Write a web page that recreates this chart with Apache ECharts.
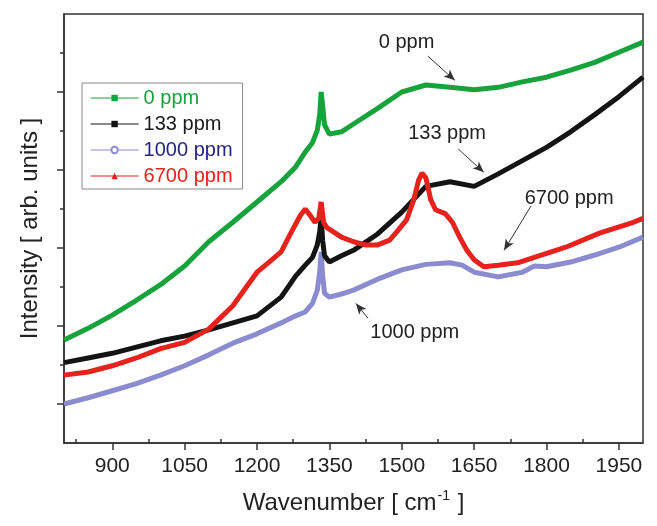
<!DOCTYPE html>
<html>
<head>
  <meta charset="UTF-8">
  <title>raman</title>
  <style>
    body { margin: 0; background: #fff; }
    #main { width: 657px; height: 526px; }
  </style>
  <script src="https://cdn.jsdelivr.net/npm/echarts@6/dist/echarts.min.js"></script>
</head>
<body>
<div id="main"></div>
<script type="text/javascript">
  // wavenumber (cm-1) and intensity (arb. units)
  const wn0 = [800, 850, 900, 950, 1000, 1050, 1100, 1150, 1200, 1250, 1280, 1300, 1315, 1325, 1330, 1333, 1336, 1340, 1350, 1375, 1400, 1450, 1500, 1550, 1600, 1650, 1700, 1750, 1800, 1850, 1900, 1950, 2000];
  const ppm0 = [1.32, 1.47, 1.64, 1.83, 2.03, 2.27, 2.58, 2.83, 3.09, 3.35, 3.54, 3.73, 3.85, 4.01, 4.21, 4.50, 4.33, 4.08, 3.96, 3.99, 4.09, 4.29, 4.50, 4.59, 4.56, 4.53, 4.56, 4.63, 4.69, 4.78, 4.88, 5.01, 5.14];

  const wn133 = [800, 850, 900, 950, 1000, 1050, 1100, 1150, 1200, 1250, 1280, 1300, 1315, 1325, 1330, 1333, 1336, 1340, 1350, 1375, 1400, 1450, 1500, 1550, 1600, 1650, 1700, 1750, 1800, 1850, 1900, 1950, 2000];
  const ppm133 = [1.03, 1.09, 1.15, 1.23, 1.31, 1.37, 1.45, 1.54, 1.63, 1.87, 2.14, 2.28, 2.38, 2.54, 2.71, 2.90, 2.60, 2.40, 2.32, 2.40, 2.47, 2.68, 2.96, 3.29, 3.35, 3.29, 3.45, 3.62, 3.79, 3.99, 4.21, 4.44, 4.69];

  const wn1000 = [800, 850, 900, 950, 1000, 1050, 1100, 1150, 1200, 1250, 1280, 1300, 1315, 1325, 1330, 1333, 1336, 1340, 1350, 1375, 1400, 1450, 1500, 1550, 1600, 1625, 1650, 1700, 1750, 1775, 1800, 1850, 1900, 1950, 2000];
  const ppm1000 = [0.50, 0.58, 0.67, 0.76, 0.87, 0.99, 1.13, 1.28, 1.40, 1.54, 1.63, 1.68, 1.79, 1.96, 2.19, 2.45, 2.15, 1.92, 1.87, 1.91, 1.96, 2.10, 2.22, 2.29, 2.31, 2.28, 2.19, 2.13, 2.19, 2.27, 2.26, 2.32, 2.41, 2.51, 2.64];

  const wn6700 = [800, 850, 900, 950, 1000, 1050, 1100, 1150, 1200, 1225, 1250, 1270, 1290, 1300, 1310, 1320, 1328, 1333, 1338, 1345, 1375, 1400, 1425, 1450, 1475, 1490, 1510, 1525, 1535, 1542, 1550, 1560, 1570, 1590, 1605, 1620, 1635, 1650, 1670, 1700, 1740, 1770, 1840, 1910, 1980, 2000];
  const ppm6700 = [0.87, 0.91, 0.99, 1.09, 1.21, 1.29, 1.46, 1.76, 2.19, 2.32, 2.45, 2.69, 2.92, 3.00, 2.92, 2.83, 2.88, 3.09, 2.83, 2.76, 2.64, 2.58, 2.54, 2.54, 2.60, 2.71, 2.86, 3.12, 3.37, 3.46, 3.40, 3.12, 2.99, 2.94, 2.83, 2.64, 2.47, 2.35, 2.26, 2.28, 2.31, 2.37, 2.51, 2.69, 2.83, 2.88];

  const seriesNames = ['0 ppm', '133 ppm', '1000 ppm', '6700 ppm'];
  const xLabels = [900, 1050, 1200, 1350, 1500, 1650, 1800, 1950];
  const xMinor = [825, 975, 1125, 1275, 1425, 1575, 1725, 1875];
  const yMajor = [0.5, 1.5, 2.5, 3.5, 4.5];
  const yMinor = [1, 2, 3, 4, 5];

  // annotation text position and arrow from -> to, in data units
  const notes = [
    { text: '0 ppm', at: [1510, 5.13], from: [1554, 4.96], to: [1610, 4.65] },
    { text: '133 ppm', at: [1594, 3.97], from: [1617, 3.77], to: [1670, 3.47] },
    { text: '6700 ppm', at: [1847, 3.14], from: [1768, 3.04], to: [1712, 2.47] },
    { text: '1000 ppm', at: [1527, 1.42], from: [1430, 1.60], to: [1405, 1.79] }
  ];

  const lineColors = ['#17a33b', '#141414', '#8b8bd0', '#e6221c'];
  const textColors = ['#17a33b', '#1a1a1a', '#262682', '#e6221c'];
  const symbols = ['rect', 'rect', 'emptyCircle', 'triangle'];
  const font = 'Liberation Sans, Arial, sans-serif';

  function pairs(xs, ys) {
    return xs.map(function (x, i) { return [x, ys[i]]; });
  }

  const allData = [pairs(wn0, ppm0), pairs(wn133, ppm133), pairs(wn1000, ppm1000), pairs(wn6700, ppm6700)];

  const series = seriesNames.map(function (name, i) {
    return {
      name: name,
      type: 'line',
      data: allData[i],
      symbol: symbols[i],
      showSymbol: false,
      symbolSize: 6,
      z: i === 2 ? 1 : 2,
      itemStyle: { color: lineColors[i] },
      lineStyle: { color: lineColors[i], width: 5 }
    };
  });

  // annotations ride on the first series
  series[0].markPoint = {
    symbol: 'circle',
    symbolSize: 1,
    silent: true,
    itemStyle: { color: 'rgba(0,0,0,0)' },
    label: { show: true, position: 'inside', color: '#222', fontSize: 20, fontFamily: font, formatter: '{b}' },
    data: notes.map(function (n) { return { name: n.text, coord: n.at }; })
  };
  series[0].markLine = {
    silent: true,
    symbol: ['none', 'arrow'],
    symbolSize: [7, 11],
    label: { show: false },
    lineStyle: { color: '#333', width: 1, type: 'solid' },
    data: notes.map(function (n) { return [{ coord: n.from }, { coord: n.to }]; })
  };

  const myChart = echarts.init(document.getElementById('main'));

  const option = {
    animation: false,
    grid: { left: 64, right: 14, top: 14, bottom: 83, show: true, borderColor: '#333', borderWidth: 1.5 },
    legend: {
      orient: 'vertical',
      left: 82,
      top: 83,
      backgroundColor: '#fff',
      borderColor: '#888',
      borderWidth: 1,
      borderRadius: 0,
      padding: [5, 10, 3, 8],
      itemWidth: 48,
      itemHeight: 8,
      itemGap: 6,
      lineStyle: { width: 1.2 },
      textStyle: { fontSize: 20, fontFamily: font, lineHeight: 20 },
      data: seriesNames.map(function (n, i) {
        return { name: n, textStyle: { color: textColors[i] } };
      })
    },
    xAxis: [{
      type: 'value',
      min: 800,
      max: 2000,
      name: '{t|Wavenumber [ cm}{s|-1}{t| ]}',
      nameLocation: 'middle',
      nameGap: 46,
      nameTextStyle: {
        rich: {
          t: { fontSize: 24, fontFamily: font, color: '#222', lineHeight: 28 },
          s: { fontSize: 14, fontFamily: font, color: '#222', verticalAlign: 'top', lineHeight: 28, padding: [0, 1, 12, 1] }
        }
      },
      splitLine: { show: false },
      axisLine: { show: true, lineStyle: { color: '#333', width: 1.5 } },
      axisTick: { show: true, inside: false, length: 7, customValues: xLabels, lineStyle: { color: '#333', width: 1.5 } },
      axisLabel: {
        show: true, margin: 13, customValues: xLabels, fontSize: 21, fontFamily: font, color: '#222',
        formatter: function (v) { return String(v); }
      }
    }, {
      type: 'value',
      min: 800,
      max: 2000,
      splitLine: { show: false },
      axisLine: { show: false },
      axisTick: { show: true, inside: false, length: 4, customValues: xMinor, lineStyle: { color: '#333', width: 1.5 } },
      axisLabel: { show: false }
    }],
    yAxis: [{
      type: 'value',
      min: 0,
      max: 5.5,
      name: 'Intensity [ arb. units ]',
      nameLocation: 'middle',
      nameGap: 22,
      nameTextStyle: { fontSize: 24, fontFamily: font, color: '#222' },
      splitLine: { show: false },
      axisLine: { show: true, lineStyle: { color: '#333', width: 1.5 } },
      axisTick: { show: true, inside: false, length: 7, customValues: yMajor, lineStyle: { color: '#333', width: 1.5 } },
      axisLabel: { show: false }
    }, {
      type: 'value',
      min: 0,
      max: 5.5,
      position: 'left',
      splitLine: { show: false },
      axisLine: { show: false },
      axisTick: { show: true, inside: false, length: 4, customValues: yMinor, lineStyle: { color: '#333', width: 1.5 } },
      axisLabel: { show: false }
    }],
    series: series
  };

  myChart.setOption(option);
</script>
</body>
</html>
